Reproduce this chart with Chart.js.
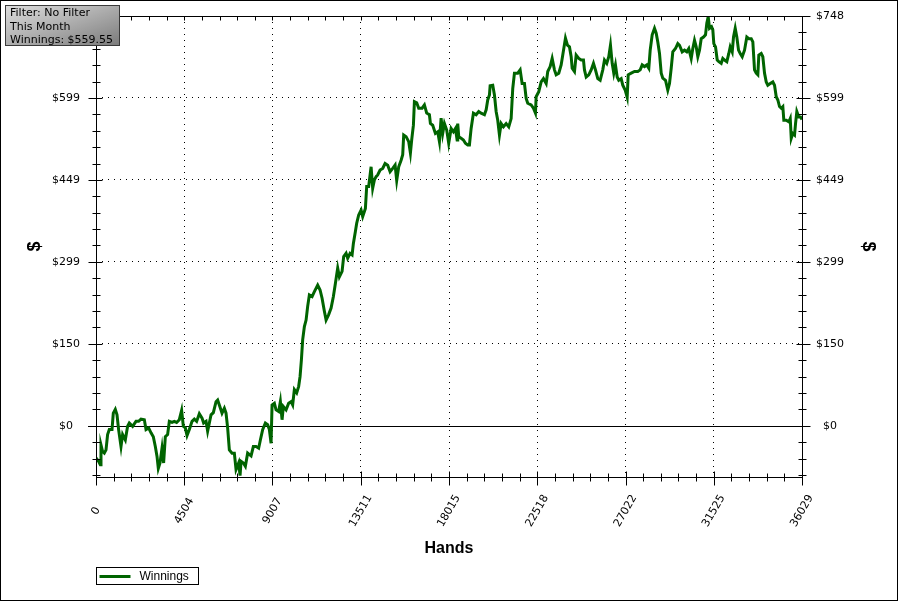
<!DOCTYPE html>
<html>
<head>
<meta charset="utf-8">
<script src="https://cdn.jsdelivr.net/npm/chart.js@4"></script>
<style>
body { margin: 0; background: #fff; }
#wrap { position: relative; width: 898px; height: 601px; }
#filterBox {
    position: absolute; left: 5px; top: 5px; width: 115px; height: 41px;
    box-sizing: border-box; border: 1px solid #3a3a3a;
    background: linear-gradient(160deg, #dcdcdc 0%, #b2b2b2 45%, #7c7c7c 100%);
    font: 11px "DejaVu Sans", sans-serif; line-height: 13.5px;
    padding: 0 0 0 4px; color: #000; white-space: nowrap;
}
</style>
</head>
<body>
<div id="wrap">
<canvas id="winCanvas" width="898" height="601"></canvas>
<div id="filterBox">Filter: No Filter<br>This Month<br>Winnings: $559.55</div>
</div>
<script>
// donnees (mains jouees / gains cumules en $)
const handsData = [
    0,133,220,255,337,424,511,592,679,817,883,985,1072,1154,1276,1358,1496,1613,1700,1868,
    2042,2175,2297,2466,2553,2685,2808,2925,3027,3114,3180,3267,3369,3451,3538,3655,3742,3880,3997,4115,
    4252,4370,4457,4559,4646,4763,4901,5018,5136,5273,5411,5493,5616,5697,5784,5871,5988,6126,6208,
    6294,6432,6550,6636,6718,6805,6943,7060,7147,7280,7351,7402,7520,7622,7739,7913,8030,8168,8301,8388,
    8505,8643,8760,8847,8934,8985,9102,9189,9322,9409,9495,9562,9700,9832,9955,10036,10123,10241,10343,10414,
    10481,10547,10634,10721,10802,10889,11027,11144,11313,11435,11537,11655,11742,11874,11997,12114,12216,12334,12421,
    12558,12640,12763,12844,12967,13069,13135,13237,13304,13406,13528,13610,13748,13814,13916,14039,14120,14207,14294,14376,
    14498,14631,14753,14886,15009,15141,15264,15346,15448,15570,15652,15703,15826,15958,16045,16111,16198,16249,16367,16469,
    16642,16760,16877,17015,17066,17183,17321,17439,17526,17612,17694,17781,17898,18000,18123,18240,18342,18429,18460,
    18511,18633,18751,18853,18970,19057,19144,19261,19399,19532,19654,19823,19910,19991,20078,20114,20247,20334,20420,20502,
    20589,20676,20793,20931,21064,21186,21268,21354,21523,21645,21747,21865,21952,22033,22207,22324,22426,22462,22595,22717,
    22835,22973,23054,23177,23279,23396,23483,23616,23738,23820,23958,24060,24163,
    24249,24300,24418,24504,24637,24760,24877,24928,25015,25147,25270,25387,25489,25607,25729,25862,25949,26066,26168,26255,
    26342,26424,26510,26597,26679,26801,26883,27005,27107,27159,27312,27481,27649,27772,27874,27991,28109,28211,28282,28384,
    28502,28588,28670,28757,28844,28925,29063,29180,29267,29354,29436,29573,29691,29778,29915,30033,30150,30252,
    30375,30457,30543,30630,30712,30799,30885,31003,31105,31171,31243,31309,31411,31478,31529,31616,31702,31784,31906,31988,
    32075,32192,32294,32366,32468,32534,32621,32703,32790,32876,32978,33096,33213,33315,33438,33520,33606,33693,33775,33826,
    33948,34030,34117,34204,34285,34408,34541,34627,34714,34796,34883,34969,35051,35102,35225,35357,35429,35480,35562,35648,
    35699,35765,35867,35954,36029
];
const winningsData = [
    -59,-65,-71,-35,-47,-50,-44,-16,-7,-7,23,30,20,-7,-38,-16,-26,-1,5,-1,
    8,8,12,11,-7,-4,-13,-20,-38,-56,-78,-68,-41,-68,-20,-16,8,6,8,6,
    11,28,-1,-4,-18,-7,8,12,8,22,14,5,8,-10,5,20,24,44,47,
    38,23,32,23,-4,-44,-50,-50,-80,-68,-91,-65,-68,-74,-50,-55,-38,-38,-41,-26,
    -7,5,2,-7,-32,38,41,29,26,44,11,35,29,41,44,38,66,60,72,90,
    120,157,181,193,218,239,236,245,257,248,233,209,193,203,215,236,260,288,272,
    282,309,315,306,315,312,333,355,370,385,394,382,397,437,437,473,434,449,455,458,
    467,470,479,476,464,470,476,448,473,485,495,531,528,519,498,522,549,592,590,580,
    580,586,571,568,552,549,534,537,519,562,534,552,540,516,543,537,543,522,552,
    528,525,522,516,513,513,543,571,568,574,571,568,577,595,604,621,622,604,574,558,
    531,552,546,552,546,561,616,644,644,650,625,625,598,589,586,580,571,601,610,628,
    634,625,647,656,671,650,641,644,659,677,708,695,692,
    674,653,647,677,671,668,668,650,637,641,650,662,650,634,631,650,668,662,674,695,
    662,644,659,637,631,634,622,613,600,641,644,647,647,650,659,656,659,653,686,714,
    726,717,701,680,644,635,631,613,625,653,683,689,698,695,683,686,683,689,
    671,689,704,692,674,686,707,710,714,735,747,726,729,723,698,692,668,665,662,671,
    668,665,680,692,683,710,726,710,686,680,674,686,710,707,707,701,650,644,641,677,
    680,674,644,628,622,625,628,622,601,595,583,580,583,558,558,555,561,525,534,531,
    552,574,564,564,559.55
];

const xTickValues = [0, 4504, 9007, 13511, 18015, 22518, 27022, 31525, 36029];
const xTickLabels = ['0', '4504', '9007', '13511', '18015', '22518', '27022', '31525', '36029'];
const yTickValues = [0, 149.68, 299.36, 449.04, 598.72, 748.4];
const yTickLabels = ['$0', '$150', '$299', '$449', '$599', '$748'];
const yMin = -93.6;
const yMax = 748.4;

// graduations majeures + 4 mineures entre chaque
function buildTicks(majors, min) {
    const out = [];
    const step0 = (majors[1] - majors[0]) / 5;
    for (let v = majors[0] - step0; v >= min - 0.01; v -= step0) out.unshift({ value: v, major: false });
    majors.forEach((m, i) => {
        out.push({ value: m, major: true });
        if (i < majors.length - 1) {
            const st = (majors[i + 1] - m) / 5;
            for (let k = 1; k < 5; k++) out.push({ value: m + st * k, major: false });
        }
    });
    return out;
}

function labelFor(values, labels, v) {
    const i = values.findIndex(m => Math.abs(m - v) < 0.01);
    return i >= 0 ? labels[i] : '';
}

function gridColor(values, c) {
    if (!c.tick || !c.tick.major) return 'rgba(0,0,0,0)';
    const v = c.tick.value;
    if (Math.abs(v - values[0]) < 0.01 || Math.abs(v - values[values.length - 1]) < 0.01) return 'rgba(0,0,0,0)';
    return '#000';
}

const tickFont = { family: 'DejaVu Sans', size: 11 };

// cadre, ligne du zero, petites graduations, etiquettes X tournees et legende
const framePlugin = {
    id: 'frame',
    beforeDraw(chart) {
        const c = chart.ctx;
        c.save();
        c.fillStyle = '#fff';
        c.fillRect(0, 0, chart.width, chart.height);
        c.restore();
    },
    beforeDatasetsDraw(chart) {
        const c = chart.ctx;
        const a = chart.chartArea;
        const y0 = Math.round(chart.scales.y.getPixelForValue(0)) + 0.5;
        c.save();
        c.strokeStyle = '#000';
        c.lineWidth = 1;
        c.beginPath();
        c.moveTo(a.left - 8, y0);
        c.lineTo(a.right + 8, y0);
        c.stroke();
        c.restore();
    },
    afterDatasetsDraw(chart) {
        const c = chart.ctx;
        const a = chart.chartArea;
        const L = Math.round(a.left) + 0.5, R = Math.round(a.right) + 0.5;
        const T = Math.round(a.top) + 0.5, B = Math.round(a.bottom) + 0.5;
        c.save();
        c.strokeStyle = '#000';
        c.lineWidth = 1;
        c.strokeRect(L, T, R - L, B - T);
        c.beginPath();
        chart.scales.x.ticks.forEach(t => {
            const px = Math.round(chart.scales.x.getPixelForValue(t.value)) + 0.5;
            const out = t.major ? 8 : 4, inn = t.major ? 6 : 4;
            c.moveTo(px, B - inn); c.lineTo(px, B + out);
            c.moveTo(px, T); c.lineTo(px, T + 4);
        });
        chart.scales.y.ticks.forEach(t => {
            const py = Math.round(chart.scales.y.getPixelForValue(t.value)) + 0.5;
            const out = t.major ? 8 : 4, inn = t.major ? 6 : 4;
            c.moveTo(L - out, py); c.lineTo(L + inn, py);
            c.moveTo(R - inn, py); c.lineTo(R + out, py);
        });
        c.stroke();
        // etiquettes de l'axe X, centrees et tournees a 60 degres
        c.fillStyle = '#000';
        c.font = '11px "DejaVu Sans"';
        c.textAlign = 'center';
        c.textBaseline = 'middle';
        xTickValues.forEach((v, i) => {
            const px = chart.scales.x.getPixelForValue(v);
            c.save();
            c.translate(px, a.bottom + 34);
            c.rotate(-Math.PI / 3);
            c.fillText(xTickLabels[i], 0, 0);
            c.restore();
        });
        c.restore();
    },
    afterDraw(chart) {
        const c = chart.ctx;
        const ds = chart.data.datasets[0];
        const bx = Math.round(chart.chartArea.left) + 0.5;
        const by = Math.round(chart.chartArea.bottom) + 90.5;
        c.save();
        c.strokeStyle = '#000';
        c.lineWidth = 1;
        c.strokeRect(bx, by, 102, 17);
        c.strokeStyle = ds.borderColor;
        c.lineWidth = 3;
        c.beginPath();
        c.moveTo(bx + 3, by + 9);
        c.lineTo(bx + 34, by + 9);
        c.stroke();
        c.fillStyle = '#000';
        c.font = '12px "Liberation Sans"';
        c.textBaseline = 'middle';
        c.fillText(ds.label, bx + 43, by + 9);
        // bordure exterieure
        c.strokeStyle = '#000';
        c.lineWidth = 1;
        c.strokeRect(0.5, 0.5, chart.width - 1, chart.height - 1);
        c.restore();
    }
};

function yScale(position, pad, titlePad) {
    return {
        type: 'linear',
        position: position,
        min: yMin,
        max: yMax,
        afterBuildTicks: s => { s.ticks = buildTicks(yTickValues, yMin); },
        afterFit: s => { s.width = 96; s.paddingTop = 0; s.paddingBottom = 0; },
        ticks: {
            autoSkip: false,
            crossAlign: 'center',
            padding: pad,
            color: '#000',
            font: tickFont,
            callback: v => labelFor(yTickValues, yTickLabels, v)
        },
        grid: { drawTicks: false, lineWidth: 1, color: c => gridColor(yTickValues, c) },
        border: { display: false, dash: [1, 5] },
        title: {
            display: true,
            text: '$',
            color: '#000',
            font: { family: 'Liberation Sans', size: 18, weight: 'bold' },
            padding: { top: titlePad, bottom: 0 }
        }
    };
}

const ctx = document.getElementById('winCanvas').getContext('2d');
new Chart(ctx, {
    type: 'line',
    data: {
        datasets: [{
            label: 'Winnings',
            data: handsData.map((h, i) => ({ x: h, y: winningsData[i] })),
            borderColor: '#006400',
            backgroundColor: '#006400',
            borderWidth: 3,
            pointRadius: 0,
            tension: 0,
            fill: false,
            yAxisID: 'y'
        }]
    },
    options: {
        responsive: false,
        animation: false,
        layout: { padding: { top: 16, right: 0, bottom: 0, left: 0 } },
        plugins: { legend: { display: false }, tooltip: { enabled: false } },
        scales: {
            x: {
                type: 'linear',
                min: 0,
                max: 36029,
                afterBuildTicks: s => { s.ticks = buildTicks(xTickValues, 0); },
                afterFit: s => { s.height = 124; s.paddingLeft = 0; s.paddingRight = 0; },
                ticks: { display: false, autoSkip: false },
                grid: { drawTicks: false, lineWidth: 1, color: c => gridColor(xTickValues, c) },
                border: { display: false, dash: [1, 5] },
                title: {
                    display: true,
                    text: 'Hands',
                    color: '#000',
                    font: { family: 'Liberation Sans', size: 16, weight: 'bold' },
                    padding: { top: 0, bottom: 43 }
                }
            },
            y: yScale('left', 16, 24),
            y2: yScale('right', 14, 19)
        }
    },
    plugins: [framePlugin]
});
</script>
</body>
</html>
